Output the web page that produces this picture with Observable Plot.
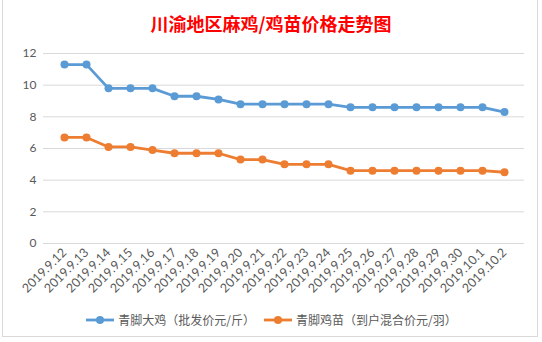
<!DOCTYPE html>
<html><head><meta charset="utf-8">
<script src="https://cdn.jsdelivr.net/npm/d3@7"></script>
<script src="https://cdn.jsdelivr.net/npm/@observablehq/plot@0.6"></script>
<style>
html,body{margin:0;padding:0;background:#fff;}
#wrap{position:relative;width:542px;height:342px;overflow:hidden;background:#fff;}
#frame{position:absolute;left:2px;top:-2px;width:536px;height:339px;border:1px solid #d9d9d9;box-sizing:border-box;}
#title{position:absolute;left:0;top:10px;width:542px;text-align:center;font-family:"Noto Sans CJK SC",sans-serif;font-weight:bold;font-size:18px;color:#ff0000;line-height:26px;}
#chart{position:absolute;left:0;top:40px;}
#legend{position:absolute;left:0;top:311px;width:542px;display:flex;justify-content:center;align-items:center;font-family:"Noto Sans CJK SC",sans-serif;font-size:12px;color:#595959;}
.item{display:flex;align-items:center;margin:0 4px;}
.item svg{margin-right:3px;}
</style></head>
<body><div id="wrap"><div id="frame"></div><div id="title">川渝地区麻鸡/鸡苗价格走势图</div><div id="chart"></div><div id="legend"></div></div>
<script>
const dates = ["2019.9.12","2019.9.13","2019.9.14","2019.9.15","2019.9.16","2019.9.17","2019.9.18","2019.9.19","2019.9.20","2019.9.21","2019.9.22","2019.9.23","2019.9.24","2019.9.25","2019.9.26","2019.9.27","2019.9.28","2019.9.29","2019.9.30","2019.10.1","2019.10.2"];
const bigChicken = [11.3,11.3,9.8,9.8,9.8,9.3,9.3,9.1,8.8,8.8,8.8,8.8,8.8,8.6,8.6,8.6,8.6,8.6,8.6,8.6,8.3];
const chick = [6.7,6.7,6.1,6.1,5.9,5.7,5.7,5.7,5.3,5.3,5.0,5.0,5.0,4.6,4.6,4.6,4.6,4.6,4.6,4.6,4.5];
const seriesNames = ["青脚大鸡（批发价元/斤）","青脚鸡苗（到户混合价元/羽）"];
const colors = ["#5B9BD5","#ED7D31"];
const yTicks = [0,2,4,6,8,10,12];

const data = [];
dates.forEach((d,i)=>{
  data.push({date:d, value:bigChicken[i], series:seriesNames[0]});
  data.push({date:d, value:chick[i], series:seriesNames[1]});
});

const chart = Plot.plot({
  width:542, height:260,
  marginLeft:43, marginRight:18, marginTop:13, marginBottom:57,
  style:{fontFamily:"Lato, 'Liberation Sans', sans-serif", fontSize:"12px", color:"#595959", background:"transparent"},
  x:{type:"point", domain:dates, padding:0.5, label:null},
  y:{domain:[0,12], label:null},
  color:{domain:seriesNames, range:colors},
  marks:[
    Plot.gridY(yTicks,{stroke:"#d9d9d9", strokeOpacity:1, strokeWidth:1}),
    Plot.axisY(yTicks,{tickSize:0, tickPadding:7, fill:"#595959", fontSize:12, label:null}),
    Plot.axisX({tickSize:0, tickRotate:-45, tickPadding:7, fill:"#595959", fontSize:12.5, label:null}),
    Plot.line(data,{x:"date", y:"value", stroke:"series", strokeWidth:2.8}),
    Plot.dot(data,{x:"date", y:"value", fill:"series", r:4})
  ]
});
document.getElementById("chart").appendChild(chart);

const legend = document.getElementById("legend");
seriesNames.forEach((n,i)=>{
  const it = document.createElement("div"); it.className="item";
  it.innerHTML = `<svg width="30" height="10"><line x1="1" y1="5" x2="29" y2="5" stroke="${colors[i]}" stroke-width="2.8"/><circle cx="15" cy="5" r="4" fill="${colors[i]}"/></svg><span>${n}</span>`;
  legend.appendChild(it);
});
</script></body></html>
